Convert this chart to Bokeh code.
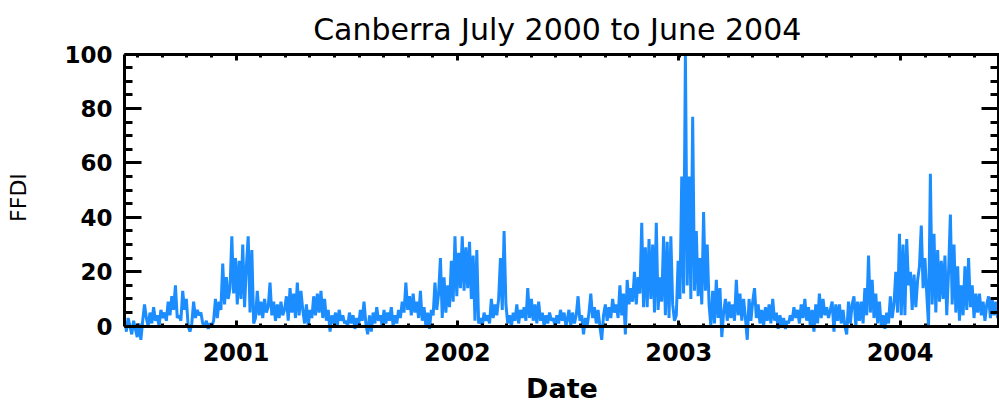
from datetime import datetime, timedelta
from bokeh.plotting import figure
from bokeh.models import (Range1d, DatetimeAxis, LinearAxis, FixedTicker,
                          ColumnDataSource, DatetimeTickFormatter)
from bokeh.embed import file_html
from bokeh.resources import INLINE

# ---- data: FFDI, sampled every 3 days, one array per July-June season ----
season_starts = [datetime(2000, 7, 1), datetime(2001, 7, 1),
                 datetime(2002, 7, 1), datetime(2003, 7, 1)]
step_days = 3

ffdi_2000_01 = [1, -2, 3, 0, -3, 2, -1, -4, 1, -5, 2,
                8, 3,
                0, 5, 1, 7, 2, 4, 0, 6, 3,
                5, 2, 9, 4, 11, 6, 15,
                3, 4, 2,
                13, 6, 10,
                0, -2, 1,
                9, 3,
                6, 4, 5,
                1, 0, 2, -1, 1, 0,
                2, 10, 3, 9, 6,
                23, 8,
                18, 10, 14,
                33,
                12, 25,
                8, 24, 10,
                30, 7, 22,
                33, 5, 28,
                1, 3,
                13, 4,
                9, 3, 10, 5, 7,
                16, 4,
                9, 2, 8, 3, 9, 4, 6,
                11, 2, 14, 5, 12, 3,
                16, 4, 13, 6,
                1, 8, 0, 6, 3,
                11, 4, 12, 5, 13, 3, 10,
                2, 6, -2, 4, 1, 5,
                0, 6, 2, 4, 1]

ffdi_2001_02 = [2, 0, 5, 1, 4, -1,
                3, 0, 6, 2, 9, 1,
                -3, 4, -2, 5, 1,
                7, 2, 4, 0, 6, 1, 5, 2, 7, 0, 4, 1, 6,
                3, 9, 5, 16,
                6, 11, 4, 12, 5, 9, 3,
                13, 2, 7, 0, 5, -1, 6,
                4, 16, 6, 12,
                25, 3,
                18, 5, 15, 7,
                24, 9,
                33, 11, 27, 14, 33,
                13, 29, 14,
                31, 10, 26,
                2,
                28,
                1, 3, 0, 5, 2, 4, 1,
                10, 3, 8, 4, 10,
                25, 6,
                35, 8,
                1, 4, 0,
                5, 2, 8, 1, 6, 3, 7, 2,
                14,
                3, 10, 2, 8, 1, 9,
                2, 5, 0, 4, 1, 5, 2, 3, 0,
                4, 1, 6, 2, 5, 0]

ffdi_2002_03 = [2, 6, 0, 5, 1, 4,
                11, 2,
                4, -3, 3, 0, 5,
                12, 3,
                7, 1, 6, 0,
                -5,
                4, 8, 2, 7, 3, 10,
                5, 8, 3,
                15, 4, 12, -3,
                17, 8, 14, 9,
                20, 8, 18,
                12, 38, 7,
                29, 7,
                32, 10, 30,
                5, 38, 6,
                18, 9,
                33, 4, 31, 3, 33, 8,
                2, 4,
                24, 10,
                55,
                12,
                100,
                15,
                55,
                10,
                77,
                13, 35, 11,
                25, 8,
                42, 13,
                30, 8,
                0, 13,
                1, 17,
                3, 14, -4,
                5, 10, 2, 9, 3, 8, 2,
                17,
                4, 12, 2, 10, 3,
                -5,
                10, 2, 9,
                14, 3,
                8, 1, 6, 0, 7, 2, 8, 1,
                10,
                2, 5, -1, 4, 0, 3, -1, 2]

ffdi_2003_04 = [1, 4,
                2, 7, 3, 6, 1, 8, 3,
                10, 2, 7,
                0, 6, -2, 8, 1,
                12, 3, 10, 4,
                7, 3, 6,
                9, -2, 8, 2,
                8, 1, 6, 0,
                -3,
                9, 1, 8, 11, 0, 9,
                2, 9, 1,
                14, 4,
                26, 5,
                17, 3, 12,
                1, 9, 0,
                4, -1, 5, 1,
                11, 3, 8,
                20, 5,
                34, 4, 30,
                4, 32,
                15, 20,
                6, 19, 7, 17,
                22,
                37, 14,
                25, 12,
                0, 56, 8,
                34, 5, 28,
                9, 24, 10,
                26, 4, 20,
                41, 8,
                30, 5, 22,
                2, 15, 4,
                22, 6,
                25, 7,
                15, 3, 12,
                5, 12, 4,
                9, 2, 8,
                11, 3,
                10, 4, 9, 3, 10, 5]

seasons = [ffdi_2000_01, ffdi_2001_02, ffdi_2002_03, ffdi_2003_04]

y_ticks = [0, 20, 40, 60, 80, 100]
y_minor = list(range(0, 101, 5))
year_ticks = [datetime(2001, 1, 1), datetime(2002, 1, 1),
              datetime(2003, 1, 1), datetime(2004, 1, 1)]

title_text = "Canberra  July 2000 to June 2004"
x_label = "Date"
y_label = "FFDI"

# ---- build table ----
dates, vals = [], []
for start, series in zip(season_starts, seasons):
    for i, v in enumerate(series):
        dates.append(start + timedelta(days=step_days * i))
        vals.append(v)
src = ColumnDataSource(dict(date=dates, ffdi=vals))

EPOCH = datetime(1970, 1, 1)
def ms(d):
    return (d - EPOCH).total_seconds() * 1000.0

x_start = datetime(2000, 7, 1)
x_axis_end = x_start + timedelta(days=1441)
x_end = x_start + timedelta(days=1443)

major_ms = [ms(d) for d in year_ticks]
minor_ms = []
for k in range(-6, 40):
    t = ms(year_ticks[0]) + k * (365.25 / 9) * 86400000.0
    if ms(x_start) < t < ms(x_axis_end):
        minor_ms.append(t)
x_ticker = FixedTicker(ticks=major_ms, minor_ticks=minor_ms)
y_ticker = FixedTicker(ticks=y_ticks, minor_ticks=y_minor)

p = figure(width=999, height=406, output_backend="svg", toolbar_location=None,
           x_axis_type=None, y_axis_type=None,
           x_range=Range1d(x_start, x_end), y_range=Range1d(-6, 100.6),
           min_border_left=124, min_border_right=0,
           min_border_top=52, min_border_bottom=61)
p.outline_line_color = None
p.background_fill_color = "white"
p.border_fill_color = "white"

p.title.text = title_text
p.title.align = "center"
p.title.text_font = "DejaVu Sans"
p.title.text_font_style = "normal"
p.title.text_font_size = "30px"
p.title.text_color = "black"
p.title.standoff = 12

p.line("date", "ffdi", source=src, line_color="#1C8DFF", line_width=3)

fmt = DatetimeTickFormatter(years="%Y", months="%Y", days="%Y")

def style(ax, tin, minin, fs="23px"):
    ax.axis_line_width = 3
    ax.axis_line_color = "black"
    ax.major_tick_in = tin
    ax.major_tick_out = 0
    ax.minor_tick_in = minin
    ax.minor_tick_out = 0
    ax.major_tick_line_width = 3
    ax.minor_tick_line_width = 3
    ax.major_label_text_font = "DejaVu Sans"
    ax.major_label_text_font_style = "bold"
    ax.major_label_text_font_size = fs
    ax.major_label_text_color = "black"
    ax.axis_label_text_color = "black"

# bottom labels (panel below the frame)
xb = DatetimeAxis(ticker=x_ticker, formatter=fmt, axis_label=x_label)
style(xb, 0, 0, "24px")
xb.axis_line_color = None
xb.major_tick_line_color = None
xb.minor_tick_line_color = None
xb.major_label_standoff = 0
xb.axis_label_standoff = 9
xb.axis_label_text_font = "DejaVu Sans"
xb.axis_label_text_font_style = "bold"
xb.axis_label_text_font_size = "27px"
p.add_layout(xb, "below")

# bottom axis line and ticks at FFDI = 0
x0 = DatetimeAxis(ticker=x_ticker, formatter=fmt)
style(x0, 6, 3)
x0.fixed_location = 0
x0.major_label_text_color = None
p.add_layout(x0, "below")

# top box axis at FFDI = 100
xt = DatetimeAxis(ticker=x_ticker, formatter=fmt)
style(xt, 6, 3)
xt.fixed_location = 100
xt.major_label_text_color = None
p.add_layout(xt, "above")

yl = LinearAxis(ticker=y_ticker, axis_label=y_label, bounds=(0, 100))
style(yl, 17, 8)
yl.major_label_standoff = 12
yl.axis_label_standoff = 30
yl.axis_label_text_font = "DejaVu Sans"
yl.axis_label_text_font_style = "normal"
yl.axis_label_text_font_size = "22px"
p.add_layout(yl, "left")

yr = LinearAxis(ticker=y_ticker, bounds=(0, 100))
style(yr, 17, 8)
yr.fixed_location = ms(x_axis_end)
yr.major_label_text_color = None
p.add_layout(yr, "right")

open("out.html", "w").write(file_html(p, INLINE))
